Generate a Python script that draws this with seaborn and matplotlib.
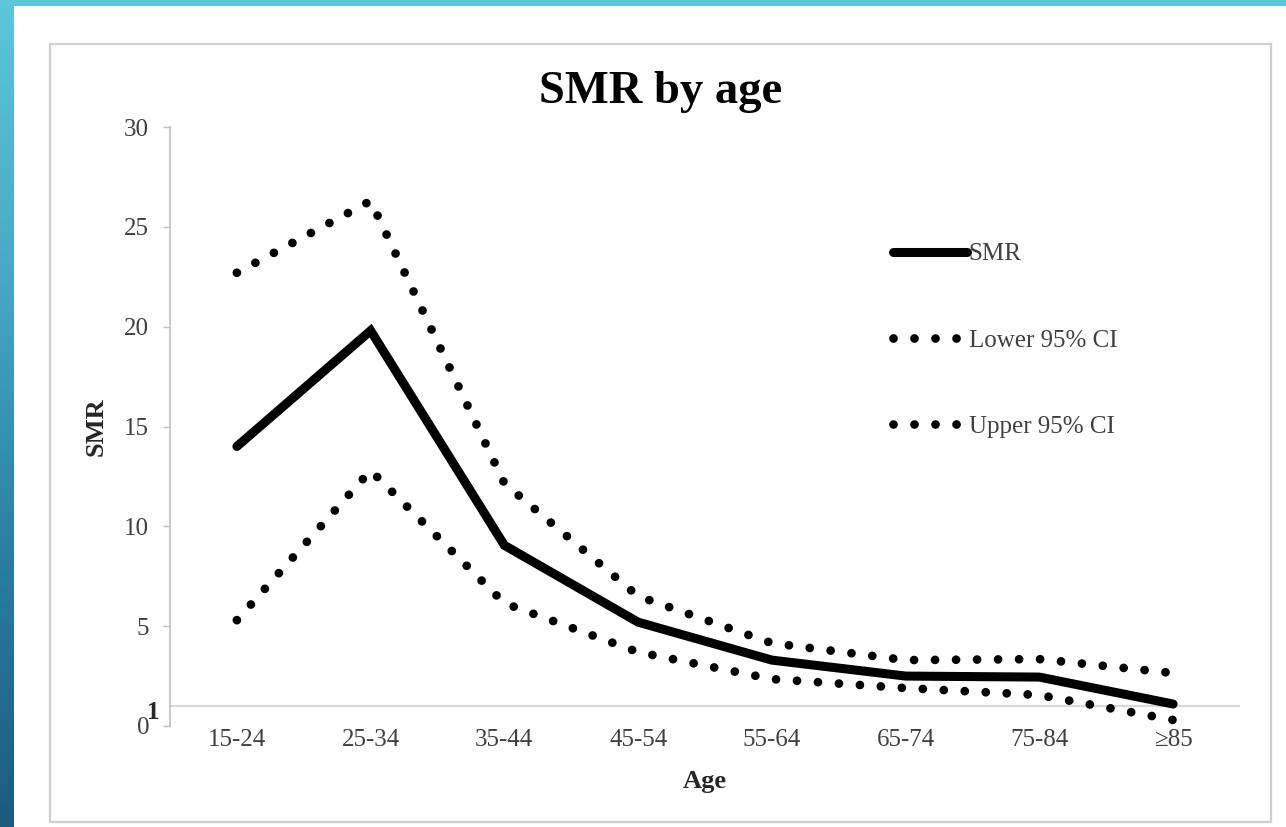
import numpy as np
import pandas as pd
import matplotlib
matplotlib.use("Agg")
import matplotlib.pyplot as plt
from matplotlib.patches import Rectangle
from matplotlib.lines import Line2D
from matplotlib.colors import LinearSegmentedColormap
import matplotlib.transforms as mtransforms
import seaborn as sns

# ---- data ----
ages = ["15-24", "25-34", "35-44", "45-54", "55-64", "65-74", "75-84", "\u226585"]
smr = [14.0, 19.8, 9.05, 5.2, 3.3, 2.5, 2.45, 1.1]
upper_ci = [22.7, 26.3, 12.15, 6.5, 4.15, 3.3, 3.35, 2.65]
lower_ci = [5.3, 12.8, 6.15, 3.7, 2.35, 1.9, 1.55, 0.3]
yticks = [0, 5, 10, 15, 20, 25, 30]
legend_labels = ["SMR", "Lower 95% CI", "Upper 95% CI"]

sns.set_theme(style="white")
plt.rcParams["font.family"] = ["Liberation Serif", "DejaVu Serif"]

W, H = 1286, 827
fig = plt.figure(figsize=(W / 100, H / 100), dpi=100)

def px(x0, y0, x1, y1):
    return [x0 / W, 1 - y1 / H, (x1 - x0) / W, (y1 - y0) / H]

# background gradient slide
bg = fig.add_axes([0, 0, 1, 1], zorder=-10)
cmap = LinearSegmentedColormap.from_list("slide", ["#5CC6DA", "#46A9C6", "#2A7FA3", "#1C5A80"])
grad = np.linspace(0, 1, 256).reshape(-1, 1)
bg.imshow(grad, aspect="auto", cmap=cmap, extent=[0, 1, 0, 1], origin="upper")
bg.add_patch(Rectangle((14 / W, 0), 1, 1 - 6 / H, transform=bg.transAxes,
                       facecolor="white", edgecolor="none"))
bg.add_patch(Rectangle((50 / W, 1 - 822 / H), (1271 - 50) / W, (822 - 44) / H,
                       transform=bg.transAxes, facecolor="white",
                       edgecolor="#CFCFCF", linewidth=1.6))
bg.set_xlim(0, 1); bg.set_ylim(0, 1)
bg.axis("off")

ax = fig.add_axes(px(170, 127, 1240, 726))
ax.set_facecolor("none")

df = pd.DataFrame({"Age": ages, "SMR": smr, "Upper": upper_ci, "Lower": lower_ci})

dot_kw = dict(color="black", linewidth=6.3, dashes=(0.001, 2.4),
              dash_capstyle="round")
sns.lineplot(data=df, x="Age", y="Upper", ax=ax, sort=False, **dot_kw)
sns.lineplot(data=df, x="Age", y="Lower", ax=ax, sort=False, **dot_kw)
sns.lineplot(data=df, x="Age", y="SMR", ax=ax, sort=False, color="black",
             linewidth=6.5, solid_capstyle="round", solid_joinstyle="miter")

ax.axhline(1, color="#D9D9D9", linewidth=1.6, zorder=0)

ax.set_xlim(-0.5, len(ages) - 0.5)
ax.set_ylim(0, 30)
ax.set_yticks(yticks)
ax.set_yticklabels([str(v) for v in yticks])
ax.set_xticks(range(len(ages)))
ax.set_xticklabels(ages)

for s in ["top", "right", "bottom"]:
    ax.spines[s].set_visible(False)
ax.spines["left"].set_color("#BFBFBF")
ax.spines["left"].set_linewidth(1.2)

ax.tick_params(axis="y", left=True, length=5, width=1.0, color="#BFBFBF",
               pad=10, labelsize=18, labelcolor="#404040")
ax.tick_params(axis="x", bottom=False, length=0, pad=2, labelsize=18,
               labelcolor="#404040")

ax.set_xlabel("Age", fontsize=19, fontweight="bold", color="#262626", labelpad=14)
ax.set_ylabel("SMR", fontsize=19, fontweight="bold", color="#262626", labelpad=12)

# the "1" marker next to zero
trans = mtransforms.blended_transform_factory(ax.transAxes, ax.transData)
ax.text(-10 / 1070, 0.7, "1", transform=trans, ha="right", va="center",
        fontsize=18, fontweight="bold", color="#262626")

# title
fig.text(661 / W, 1 - 92 / H, "SMR by age", ha="center", va="center",
         fontsize=33.5, fontweight="bold", color="black")

# legend
handles = [
    Line2D([], [], color="black", linewidth=6.5, solid_capstyle="round"),
    Line2D([], [], **dot_kw),
    Line2D([], [], **dot_kw),
]
leg = fig.legend(handles, legend_labels, loc="upper left",
                 bbox_to_anchor=(893 / W, 1 - 243 / H), frameon=False,
                 fontsize=18, handlelength=2.95, handletextpad=0.08,
                 labelspacing=2.55, borderpad=0, borderaxespad=0)
for t in leg.get_texts():
    t.set_color("#404040")

fig.savefig("out.png", dpi=100)
